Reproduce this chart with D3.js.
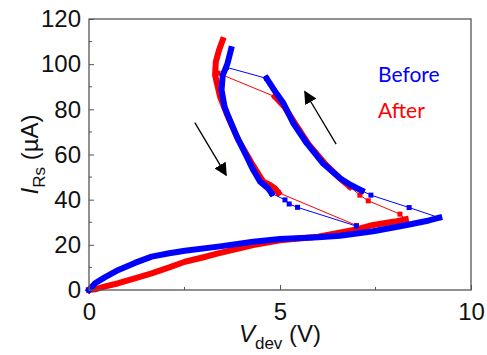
<!DOCTYPE html>
<html>
<head>
<meta charset="utf-8">
<script src="https://cdn.jsdelivr.net/npm/d3@7"></script>
<style>
  body { margin: 0; background: #fff; }
  svg { display: block; }
</style>
</head>
<body>
<div id="chart"></div>
<script>
// axis ticks
const xTicks = [0, 5, 10];
const yTicks = [0, 20, 40, 60, 80, 100, 120];

// Before (blue): dense parts are drawn thick, sparse parts as thin line + squares
const beforeLower = [[0,0],[0.16,3],[0.4,5.5],[0.77,8.9],[1.2,12],[1.64,14.8],[2.1,16.3],[2.51,17.4],[3.38,19.2],[4.3,21.4],[5,22.6],[6,23.4],[6.57,24],[7.44,26],[8.32,28.8],[8.9,30.8],[9.17,32]];
const beforeJumpR = [[9.17,32],[8.38,36.5],[7.38,42],[7.14,44]];
const beforeRight = [[7.14,44],[6.85,46.5],[6.57,49.5],[6.13,56],[5.7,65],[5.35,73.8],[5.09,82.7],[4.91,87],[4.65,93.7]];
const beforeJumpT = [[4.65,93.7],[3.6,98.6]];
const beforeLeft = [[3.72,106.6],[3.62,100],[3.5,95],[3.47,88.6],[3.55,81],[3.65,76.7],[3.87,67.9],[4.13,59],[4.3,53.1],[4.48,48],[4.69,45],[4.78,42.8]];
const beforeJumpB = [[4.78,42.8],[5.13,39.9],[5.24,38.1],[5.46,36.6],[7.0,28.3]];

// After (red)
const afterLower = [[0,0],[0.16,0.3],[0.4,1.5],[0.77,3],[1.2,5.2],[1.64,7.4],[2.1,10],[2.51,12.5],[3,14.5],[3.38,16.2],[4.3,19.9],[5,22],[6,23.6],[7,26.8],[7.44,28.8],[8,30.3],[8.29,31.3]];
const afterJumpR = [[8.29,31.3],[8.14,33.6],[7.31,39.5],[7.09,42],[6.83,45.7]];
const afterRight = [[6.83,45.7],[6.6,49],[6.2,55.5],[5.75,64.5],[5.4,73.5],[5.12,81],[4.87,85.6]];
const afterJumpT = [[4.87,85.6],[3.38,96]];
const afterLeft = [[3.5,110.7],[3.4,106],[3.32,101],[3.3,95.2],[3.43,85.6],[3.6,78.3],[3.91,66.4],[4.26,56.1],[4.56,48],[4.74,46.5],[4.87,45],[4.96,43.1]];
const afterJumpB = [[4.96,43.1],[7.0,28.6]];

// arrows: [from, to]
const arrows = [[[6.47,64.6],[5.65,87.8]], [[2.77,74.1],[3.59,50.9]]];

const legendNames = ["Before", "After"];
const blue = "#0000ff", red = "#ff0000";

const width = 487, height = 355;
const margin = {left: 89, right: 16, top: 19, bottom: 65};

const svg = d3.select("#chart").append("svg")
  .attr("width", width).attr("height", height)
  .attr("font-family", "Arial, 'Liberation Sans', sans-serif");

const x = d3.scaleLinear().domain([0, 10]).range([margin.left, width - margin.right]);
const y = d3.scaleLinear().domain([0, 120]).range([height - margin.bottom, margin.top]);

const line = d3.line().x(d => x(d[0])).y(d => y(d[1]));

function dense(data, color) {
  svg.append("path").datum(data)
    .attr("d", line)
    .attr("fill", "none")
    .attr("stroke", color)
    .attr("stroke-width", 6)
    .attr("stroke-linejoin", "round")
    .attr("stroke-linecap", "square");
}

function sparse(data, color) {
  svg.append("path").datum(data)
    .attr("d", line)
    .attr("fill", "none")
    .attr("stroke", color)
    .attr("stroke-width", 1);
  svg.append("g").selectAll("rect")
    .data(data)
    .join("rect")
      .attr("x", d => x(d[0]) - 2.5)
      .attr("y", d => y(d[1]) - 2.5)
      .attr("width", 5)
      .attr("height", 5)
      .attr("fill", color);
}

// red drawn first, blue on top
dense(afterLower, red);
sparse(afterJumpR, red);
dense(afterRight, red);
sparse(afterJumpT, red);
dense(afterLeft, red);
sparse(afterJumpB, red);

dense(beforeLower, blue);
sparse(beforeJumpR, blue);
dense(beforeRight, blue);
sparse(beforeJumpT, blue);
dense(beforeLeft, blue);
sparse(beforeJumpB, blue);

// frame
svg.append("rect")
  .attr("x", x(0)).attr("y", y(120))
  .attr("width", x(10) - x(0)).attr("height", y(0) - y(120))
  .attr("fill", "none").attr("stroke", "#555").attr("stroke-width", 1.3);

// axes with inward ticks
const xAxis = svg.append("g")
  .attr("transform", `translate(0,${y(0)})`)
  .call(d3.axisBottom(x).tickValues(xTicks).tickSize(-5).tickPadding(13).tickFormat(d3.format("d")));
const yAxis = svg.append("g")
  .attr("transform", `translate(${x(0)},0)`)
  .call(d3.axisLeft(y).tickValues(yTicks).tickSize(-5).tickPadding(8).tickFormat(d3.format("d")));

// minor ticks
svg.append("g").selectAll("line")
  .data([2.5, 7.5]).join("line")
  .attr("x1", d => x(d)).attr("x2", d => x(d))
  .attr("y1", y(0)).attr("y2", y(0) - 3)
  .attr("stroke", "#555");
svg.append("g").selectAll("line")
  .data([10, 30, 50, 70, 90, 110]).join("line")
  .attr("x1", x(0)).attr("x2", x(0) + 3)
  .attr("y1", d => y(d)).attr("y2", d => y(d))
  .attr("stroke", "#555");

[xAxis, yAxis].forEach(g => {
  g.select(".domain").remove();
  g.selectAll(".tick line").attr("stroke", "#555");
  g.selectAll(".tick text").attr("font-size", 24).attr("fill", "#111").attr("font-family", "Arial, 'Liberation Sans', sans-serif");
});

// axis titles
const xt = svg.append("text")
  .attr("x", (x(0) + x(10)) / 2)
  .attr("y", 342)
  .attr("text-anchor", "middle")
  .attr("font-size", 24)
  .attr("fill", "#111");
xt.append("tspan").attr("font-style", "italic").text("V");
xt.append("tspan").attr("font-size", 17).attr("dy", 7).text("dev");
xt.append("tspan").attr("dy", -7).text(" (V)");

const yt = svg.append("text")
  .attr("transform", `translate(38,${(y(0) + y(120)) / 2}) rotate(-90)`)
  .attr("text-anchor", "middle")
  .attr("font-size", 24)
  .attr("fill", "#111");
yt.append("tspan").attr("font-style", "italic").text("I");
yt.append("tspan").attr("font-size", 17).attr("dy", 7).text("Rs");
yt.append("tspan").attr("dy", -7).text(" (\u00b5A)");

// arrows
svg.append("defs").append("marker")
  .attr("id", "head")
  .attr("viewBox", "0 0 10 10")
  .attr("refX", 9).attr("refY", 5)
  .attr("markerWidth", 13).attr("markerHeight", 13)
  .attr("markerUnits", "userSpaceOnUse")
  .attr("orient", "auto")
  .append("path").attr("d", "M0,0L10,5L0,10Z").attr("fill", "#000");

svg.append("g").selectAll("line")
  .data(arrows).join("line")
  .attr("x1", d => x(d[0][0])).attr("y1", d => y(d[0][1]))
  .attr("x2", d => x(d[1][0])).attr("y2", d => y(d[1][1]))
  .attr("stroke", "#000").attr("stroke-width", 1.3)
  .attr("marker-end", "url(#head)");

// legend
svg.append("g").selectAll("text")
  .data(legendNames).join("text")
  .attr("x", 378)
  .attr("y", (d, i) => 82 + i * 36)
  .attr("font-family", "Lato, 'Open Sans', sans-serif")
  .attr("font-size", 21)
  .attr("fill", (d, i) => i === 0 ? blue : red)
  .text(d => d);
</script>
</body>
</html>
